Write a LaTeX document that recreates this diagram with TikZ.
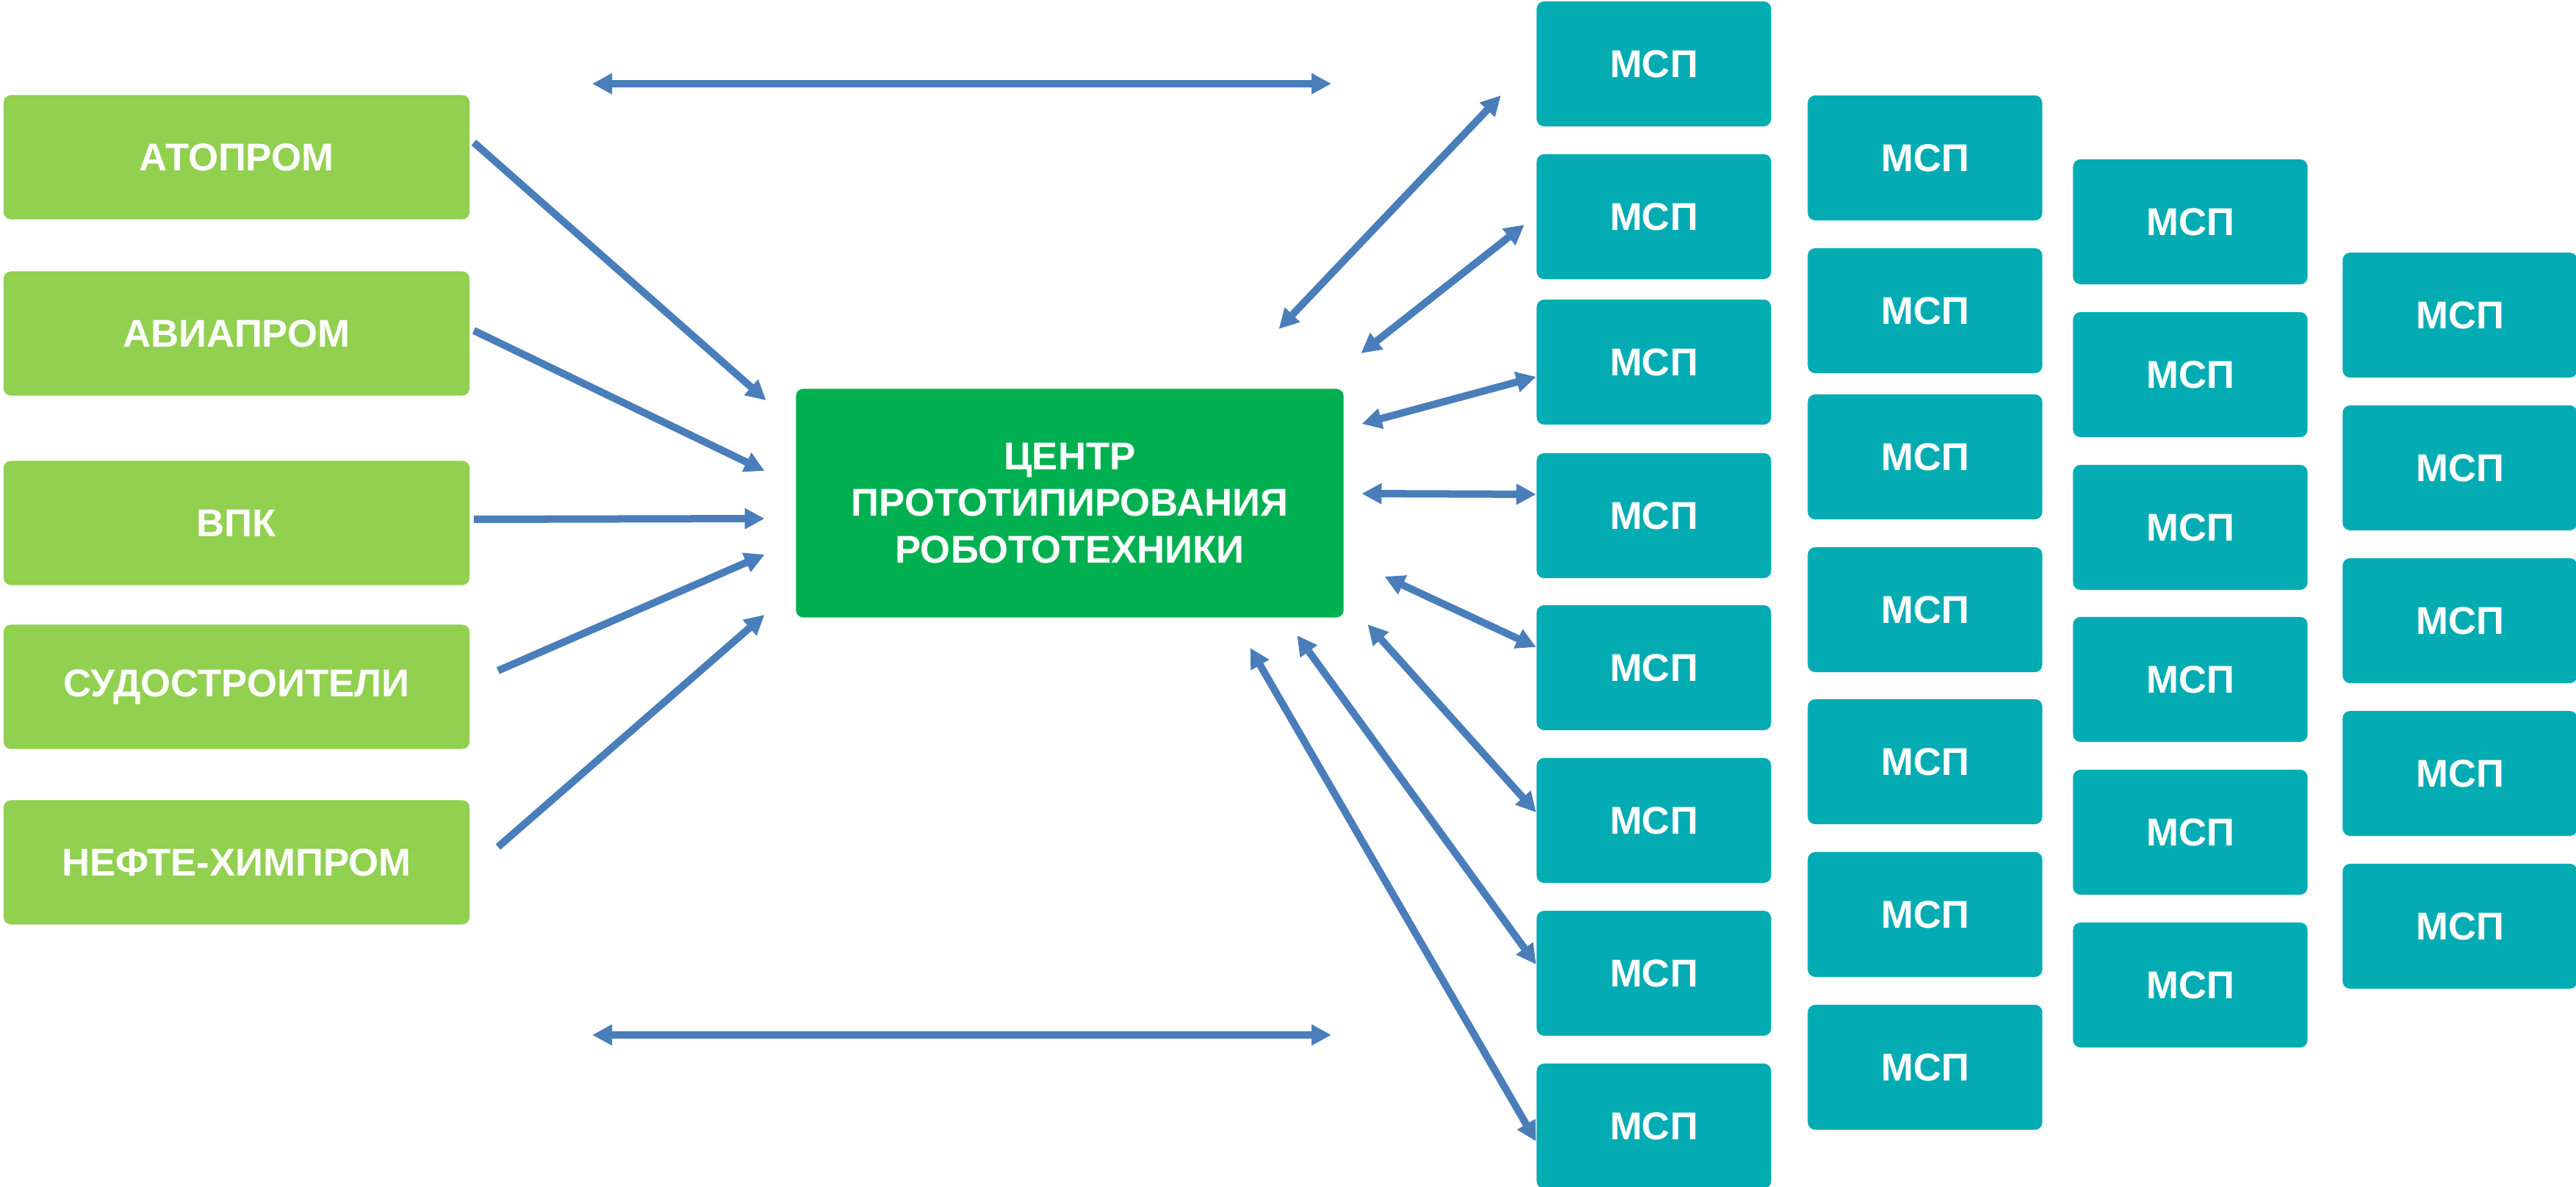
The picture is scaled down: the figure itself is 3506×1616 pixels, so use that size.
\documentclass[tikz,border=0pt]{standalone}
\usepackage{fontspec}
\setmainfont{Liberation Sans}
\usetikzlibrary{arrows.meta}

\definecolor{branchgreen}{HTML}{92D050}
\definecolor{hubgreen}{HTML}{00B050}
\definecolor{mspteal}{HTML}{03ACB3}
\definecolor{linkblue}{HTML}{4A7EBB}

\begin{document}
\begin{tikzpicture}[x=0.01cm,y=-0.01cm]
    \tikzstyle{box}=[rectangle,rounded corners=0.1cm,text=white,inner sep=0pt,font=\bfseries\fontsize{15}{18}\selectfont]
    \tikzstyle{branch}=[box,fill=branchgreen,minimum width=6.34cm,minimum height=1.69cm]
    \tikzstyle{hub}=[box,fill=hubgreen,minimum width=7.45cm,minimum height=3.11cm,align=center]
    \tikzstyle{msp}=[box,fill=mspteal,minimum width=3.19cm,minimum height=1.70cm]
    \tikzstyle{flow}=[draw=linkblue,line width=0.1cm,-{Triangle[length=0.27cm,width=0.27cm]}]
    \tikzstyle{link}=[flow,{Triangle[length=0.27cm,width=0.27cm]}-{Triangle[length=0.27cm,width=0.27cm]}]

    \useasboundingbox (0,0) rectangle (3506,1616);

    \foreach \num/\y/\name in {1/214/АТОПРОМ, 2/454/АВИАПРОМ, 3/712/ВПК, 4/935/СУДОСТРОИТЕЛИ, 5/1174/НЕФТЕ-ХИМПРОМ}
        \node[branch] (B-\num) at (322,\y) {\name};

    \node[hub] (C) at (1456,685) {ЦЕНТР\\ПРОТОТИПИРОВАНИЯ\\РОБОТОТЕХНИКИ};

    % МСП columns
    \foreach \y [count=\num] in {87,295,493,702,909,1117,1325,1533}
        \node[msp] (M-1-\num) at (2251,\y) {МСП};
    \foreach \y [count=\num] in {215,423,622,830,1037,1245,1453}
        \node[msp] (M-2-\num) at (2620,\y) {МСП};
    \foreach \y [count=\num] in {302,510,718,925,1133,1341}
        \node[msp] (M-3-\num) at (2981,\y) {МСП};
    \foreach \y [count=\num] in {429,637,845,1053,1261}
        \node[msp] (M-4-\num) at (3348,\y) {МСП};

    \foreach \num/\dx/\dy/\ex/\ey in {1/5/-20/-40/-140, 2/5/-4/-42/-44, 3/5/-5/-42/21, 4/38/-22/-42/70, 5/38/-21/-42/152}
        \draw[flow] ([shift={(\dx,\dy)}]B-\num.east) -- ([shift={(\ex,\ey)}]C.west);

    \foreach \num/\dx/\dy/\ex/\ey in {1/-89/-237/-48/43, 2/23/-204/-16/11, 3/24/-108/0/20, 4/24/-13/0/-29,
            5/55/100/0/-28, 6/32/165/0/-11, 7/-64/180/0/-12, 8/-128/197/0/21}
        \draw[link] ([shift={(\dx,\dy)}]C.east) -- ([shift={(\ex,\ey)}]M-1-\num.west);

    \coordinate (top-l) at (806,114);
    \coordinate (top-r) at (1812,114);
    \coordinate (bot-l) at (806,1409);
    \coordinate (bot-r) at (1812,1409);
    \draw[link] (top-l) -- (top-r);
    \draw[link] (bot-l) -- (bot-r);
\end{tikzpicture}
\end{document}
